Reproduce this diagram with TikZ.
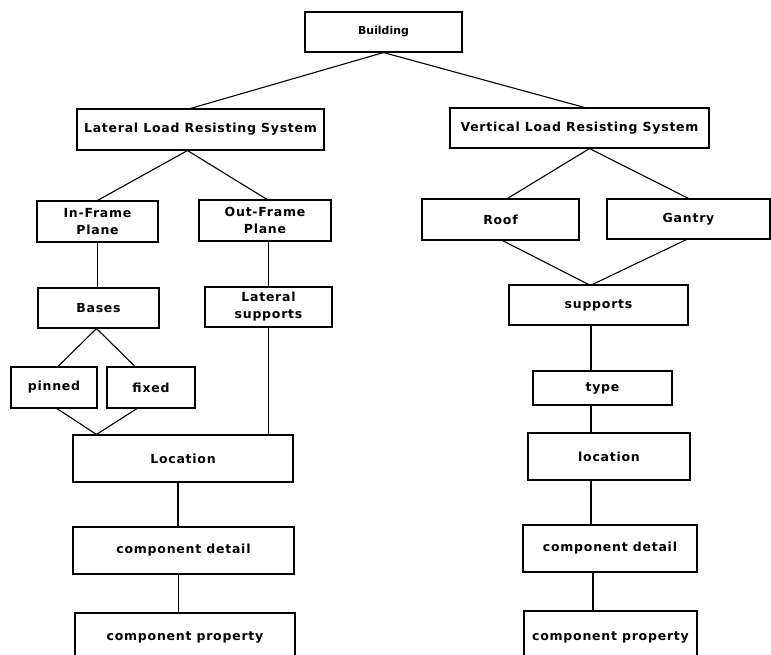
\documentclass[tikz,border=0pt]{standalone}
\usepackage{fontspec}
\newfontfamily\plotfont[LetterSpace=6]{DejaVu Sans}
\newfontfamily\plotfonttight[LetterSpace=0]{DejaVu Sans}
\tikzset{
    blk/.style={draw, line width=1.1pt, inner sep=0pt, align=center,
        font=\plotfont\bfseries\fontsize{12.5}{17}\selectfont},
    link/.style={line width=1.1pt}
}
\begin{document}
\begin{tikzpicture}[x=1pt, y=-1pt]
    \clip (0,0) rectangle (771,655);

    % Top level
    \node[blk, minimum width=157, minimum height=40,
        font=\plotfonttight\bfseries\fontsize{10.9}{13}\selectfont] (bld) at (383.5,32) {Building};
    \node[blk, minimum width=247, minimum height=41] (lat) at (200.5,129.5) {Lateral Load Resisting System};
    \node[blk, minimum width=259, minimum height=40] (ver) at (579.5,128) {Vertical Load Resisting System};

    % Lateral branch
    \node[blk, minimum width=121, minimum height=41] (inf) at (97.5,221.5) {In-Frame\\Plane};
    \node[blk, minimum width=132, minimum height=41] (outf) at (265,220.5) {Out-Frame\\Plane};
    \node[blk, minimum width=121, minimum height=40] (bas) at (98.5,308) {Bases};
    \node[blk, minimum width=127, minimum height=40] (lsup) at (268.5,307) {Lateral\\supports};
    \node[blk, minimum width=86, minimum height=41] (pin) at (54,387.5) {pinned};
    \node[blk, minimum width=88, minimum height=41] (fix) at (151,387.5) {fixed};
    \node[blk, minimum width=220, minimum height=47] (loc) at (183,458.5) {Location};
    \node[blk, minimum width=221, minimum height=47] (cdl) at (183.5,550.5) {component detail};
    \node[blk, minimum width=220, minimum height=54] (cpl) at (185,640) {\raisebox{8pt}{component property}};
    \coordinate (join) at ([xshift=24]loc.north west);

    % Vertical branch
    \node[blk, minimum width=157, minimum height=41] (roof) at (500.5,219.5) {Roof};
    \node[blk, minimum width=163, minimum height=40] (gan) at (688.5,219) {Gantry};
    \node[blk, minimum width=179, minimum height=40] (sup) at (598.5,305) {supports};
    \node[blk, minimum width=139, minimum height=34] (typ) at (602.5,388) {type};
    \node[blk, minimum width=162, minimum height=47] (lcr) at (609,456.5) {location};
    \node[blk, minimum width=174, minimum height=47] (cdr) at (610,548.5) {component detail};
    \node[blk, minimum width=173, minimum height=58] (cpr) at (610.5,640) {\raisebox{8pt}{component property}};
    \coordinate (spine) at (591,0);

    % Connectors, left
    \draw[link] (bld.south) -- ([xshift=-10]lat.north);
    \draw[link] (bld.south) -- ([xshift=5]ver.north);
    \draw[link] ([xshift=-13]lat.south) -- (inf.north);
    \draw[link] ([xshift=-13]lat.south) -- ([xshift=2]outf.north);
    \draw[link] (inf.south) -- (inf.south |- bas.north);
    \draw[link] (lsup.north |- outf.south) -- (lsup.north);
    \draw[link] ([xshift=-2]bas.south) -- ([xshift=4]pin.north);
    \draw[link] ([xshift=-2]bas.south) -- ([xshift=-16]fix.north);
    \draw[link] ([xshift=3]pin.south) -- (join);
    \draw[link] ([xshift=-14]fix.south) -- (join);
    \draw[link] (lsup.south) -- (lsup.south |- loc.north);
    \draw[link] ([xshift=-5]loc.south) -- ([xshift=-5]loc.south |- cdl.north);
    \draw[link] ([xshift=-5]cdl.south) -- ([xshift=-5]cdl.south |- cpl.north);

    % Connectors, right
    \draw[link] ([xshift=10]ver.south) -- ([xshift=7]roof.north);
    \draw[link] ([xshift=10]ver.south) -- (gan.north);
    \draw[link] ([xshift=2]roof.south) -- ([xshift=-10]sup.north);
    \draw[link] ([xshift=-2]gan.south) -- ([xshift=-6]sup.north);
    \draw[link] (sup.south -| spine) -- (typ.north -| spine);
    \draw[link] (typ.south -| spine) -- (lcr.north -| spine);
    \draw[link] (lcr.south -| spine) -- (cdr.north -| spine);
    \draw[link] ([xshift=2]cdr.south -| spine) -- ([xshift=2]cpr.north -| spine);
\end{tikzpicture}
\end{document}
